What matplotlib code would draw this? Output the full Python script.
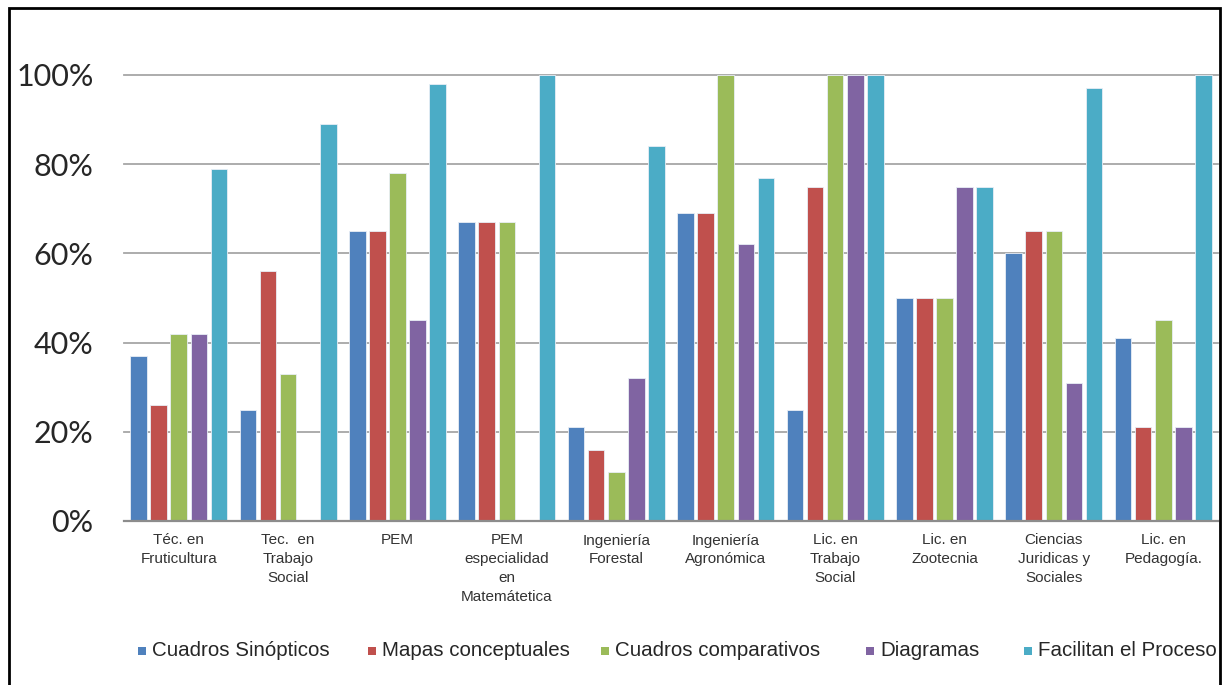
import matplotlib
matplotlib.use("Agg")
import matplotlib.pyplot as plt
import numpy as np
from matplotlib.patches import Rectangle
from matplotlib.transforms import Bbox, TransformedBbox

categories = ["Téc. en\nFruticultura", "Tec.  en\nTrabajo\nSocial", "PEM",
              "PEM\nespecialidad\nen\nMatemátetica", "Ingeniería\nForestal",
              "Ingeniería\nAgronómica", "Lic. en\nTrabajo\nSocial", "Lic. en\nZootecnia",
              "Ciencias\nJuridicas y\nSociales", "Lic. en\nPedagogía."]
series_names = ["Cuadros Sinópticos", "Mapas conceptuales", "Cuadros comparativos",
                "Diagramas", "Facilitan el Proceso"]
cuadros_sinopticos = [37, 25, 65, 67, 21, 69, 25, 50, 60, 41]
mapas_conceptuales = [26, 56, 65, 67, 16, 69, 75, 50, 65, 21]
cuadros_comparativos = [42, 33, 78, 67, 11, 100, 100, 50, 65, 45]
diagramas = [42, 0, 45, 0, 32, 62, 100, 75, 31, 21]
facilitan_proceso = [79, 89, 98, 100, 84, 77, 100, 75, 97, 100]
yticks = [0, 20, 40, 60, 80, 100]
ytick_labels = ["0%", "20%", "40%", "60%", "80%", "100%"]

series = [cuadros_sinopticos, mapas_conceptuales, cuadros_comparativos, diagramas, facilitan_proceso]
colors = ["#4F81BD", "#C0504D", "#9BBB59", "#8064A2", "#4BACC6"]

W, H = 1223, 685
fig = plt.figure(figsize=(W / 100, H / 100), dpi=100)
fig.patch.set_facecolor("white")
ax = fig.add_axes([124 / W, 1 - 521 / H, (1218 - 124) / W, (521 - 75) / H])

x = np.arange(len(categories))
step = 0.184
bw = 0.152
for i, (vals, c) in enumerate(zip(series, colors)):
    ax.bar(x + (i - 2) * step, vals, width=bw, color=c, edgecolor="#E8EEF6",
           linewidth=0.6, zorder=3)

ax.set_xlim(-0.5, len(categories) - 0.5)
ax.set_ylim(0, 100)
ax.set_yticks(yticks)
ax.set_yticklabels(ytick_labels, fontfamily="Lato", fontsize=22, color="#262626")
ax.tick_params(axis="y", length=0, pad=22)
ax.set_xticks(x)
ax.set_xticklabels(categories, fontfamily="Liberation Sans", fontsize=11, color="#333333",
                   linespacing=1.45)
ax.tick_params(axis="x", length=0, pad=9)
ax.yaxis.grid(True, color="#A6A6A6", linewidth=1.3, zorder=0)
for g in ax.get_ygridlines():
    g.set_clip_on(False)
for s in ["top", "right", "left"]:
    ax.spines[s].set_visible(False)
ax.spines["bottom"].set_color("#8C8C8C")
ax.spines["bottom"].set_linewidth(1.6)
ax.spines["bottom"].set_zorder(4)

# legend (manual, Excel style)
leg_sq_x = [138, 368, 601, 866, 1024]
leg_y = 651
clip = TransformedBbox(Bbox([[0, 0], [1219 / W, 1]]), fig.transFigure)
for name, c, sx in zip(series_names, colors, leg_sq_x):
    fig.add_artist(Rectangle((sx / W, (H - leg_y - 4) / H), 8 / W, 8 / H,
                             transform=fig.transFigure, facecolor=c, edgecolor="none"))
    t = fig.text((sx + 14) / W, (H - leg_y) / H, name, fontsize=14.8,
                 fontfamily="Liberation Sans",
                 color="#262626", va="center", ha="left")
    t.set_clip_box(clip)
    t.set_clip_on(True)

# outer frame
fig.add_artist(Rectangle((8.5 / W, -0.1), (1219.5 - 8.5) / W, 1.1 - 8.5 / H,
                         transform=fig.transFigure, fill=False, edgecolor="black",
                         linewidth=2.0))

fig.savefig("out.png", dpi=100, facecolor="white")
